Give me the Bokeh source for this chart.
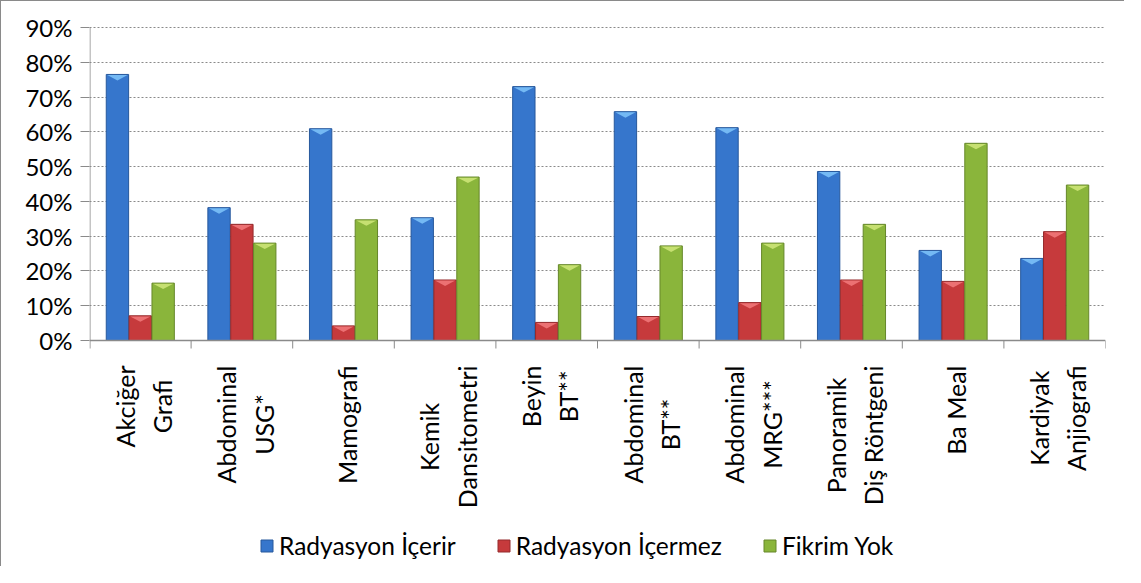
import math
import numpy as np
from bokeh.plotting import figure
from bokeh.models import (Range1d, LinearAxis, FixedTicker,
                          NumeralTickFormatter, Legend, LegendItem, ColumnDataSource)
from bokeh.core.properties import value
from bokeh.embed import file_html
from bokeh.resources import INLINE

categories = ["Akciğer\nGrafi", "Abdominal\nUSG*", "Mamografi", "Kemik\nDansitometri",
              "Beyin\nBT**", "Abdominal\nBT**", "Abdominal\nMRG***",
              "Panoramik\nDiş Röntgeni", "Ba Meal", "Kardiyak\nAnjiografi"]
series_names = ["Radyasyon İçerir", "Radyasyon İçermez", "Fikrim Yok"]
icerir = [76.5, 38.2, 60.9, 35.3, 73.0, 65.8, 61.2, 48.6, 25.9, 23.6]
icermez = [7.1, 33.4, 4.2, 17.4, 5.2, 6.9, 10.9, 17.4, 17.0, 31.3]
fikrim_yok = [16.5, 28.0, 34.7, 47.0, 21.8, 27.2, 28.0, 33.4, 56.7, 44.7]
y_ticks = [0, 10, 20, 30, 40, 50, 60, 70, 80, 90]

fills = ["#3676cc", "#c63a3c", "#8ab53b"]
edges = ["#27589c", "#952a2c", "#66872a"]
lights = ["#78bdf6", "#ee7476", "#c9e374"]
AXIS_C = "#8a8a8a"

FONT = "Lato"
n = len(categories)

# layout constants (pixels)
FRAME_H_DATA = 313.0          # pixels from 0% to 90%
PX = FRAME_H_DATA / 0.9       # pixels per data unit (y)
BELOW = 227.0                 # pixels from x axis to bottom of canvas
TOP_PAD = 2.0

p = figure(width=1124, height=566, x_range=Range1d(0, n),
           y_range=Range1d(-BELOW / PX, 0.9 + TOP_PAD / PX),
           output_backend="svg", toolbar_location=None, x_axis_location=None,
           y_axis_location=None, min_border_left=88, min_border_top=24,
           min_border_right=20, min_border_bottom=0)
p.styles = {"border-left": "1px solid #8a8a8a", "border-top": "1px solid #8a8a8a"}
p.outline_line_color = None
p.background_fill_color = "white"
p.border_fill_color = "white"

# y axis (ticks + labels; its line is drawn below only over 0..90%)
yax = LinearAxis(ticker=FixedTicker(ticks=[t / 100 for t in y_ticks]),
                 formatter=NumeralTickFormatter(format="0%"))
yax.axis_line_color = None
yax.major_tick_line_color = AXIS_C
yax.major_tick_out = 9
yax.major_tick_in = 0
yax.minor_tick_line_color = None
yax.major_label_text_font = FONT
yax.major_label_text_font_size = "24px"
yax.major_label_text_color = "black"
yax.major_label_standoff = 8
p.add_layout(yax, "left")

p.xgrid.grid_line_color = None
p.ygrid.ticker = FixedTicker(ticks=[t / 100 for t in y_ticks[1:]])
p.ygrid.grid_line_color = AXIS_C
p.ygrid.grid_line_dash = "2 2"
p.ygrid.grid_line_width = 1

# bars
bw = 0.22
offsets = [-0.225, 0.0, 0.225]
renderers = []
for vals, off, fc, ec, lc in zip([icerir, icermez, fikrim_yok], offsets, fills, edges, lights):
    xs = np.arange(n) + 0.5 + off
    tops = np.array(vals) / 100.0
    src = ColumnDataSource(dict(x=xs, top=tops))
    r = p.vbar(x="x", top="top", width=bw, source=src, fill_color=fc,
               line_color=ec, line_width=1)
    renderers.append(r)
    # bevel chevron on top of each bar
    d = 6 / PX
    pxs = [[x - bw / 2 + 0.01, x + bw / 2 - 0.01, x] for x in xs]
    pys = [[t - 0.6 / PX, t - 0.6 / PX, t - d] for t in tops]
    p.patches(pxs, pys, fill_color=lc, line_color=None, fill_alpha=0.95)

# axis lines drawn inside the frame
px_x = 1016.0 / n
p.segment(x0=[0.5 / px_x], y0=[0], x1=[0.5 / px_x], y1=[0.9], line_color=AXIS_C, line_width=1)
p.segment(x0=[0], y0=[0], x1=[n], y1=[0], line_color=AXIS_C, line_width=1.5)
bounds = list(range(n + 1))
bx = [b + (0.5 / px_x if b == 0 else 0) for b in bounds]
p.segment(x0=bx, y0=[0] * len(bx), x1=bx, y1=[-8 / PX] * len(bx),
          line_color=AXIS_C, line_width=1)

# category labels (rotated, reading bottom to top)
centres = [i + 0.5 for i in range(n)]
p.text(x=centres, y=[-25 / PX] * n, text=categories, angle=math.pi / 2,
       x_offset=3,
       text_align="center", text_baseline="middle", anchor="center_right",
       text_font=value(FONT), text_font_size="25px", text_color="black",
       text_line_height=1.25)

legend = Legend(items=[LegendItem(label=nm, renderers=[r]) for nm, r in zip(series_names, renderers)],
                orientation="horizontal", location=(170, 7))
legend.label_text_font = FONT
legend.label_text_font_size = "24.5px"
legend.label_text_color = "black"
legend.glyph_width = 15
legend.glyph_height = 15
legend.label_standoff = 5
legend.spacing = 40
legend.padding = 2
legend.margin = 0
legend.border_line_color = None
legend.background_fill_alpha = 0
p.add_layout(legend, "center")

open("out.html", "w").write(file_html(p, INLINE))
